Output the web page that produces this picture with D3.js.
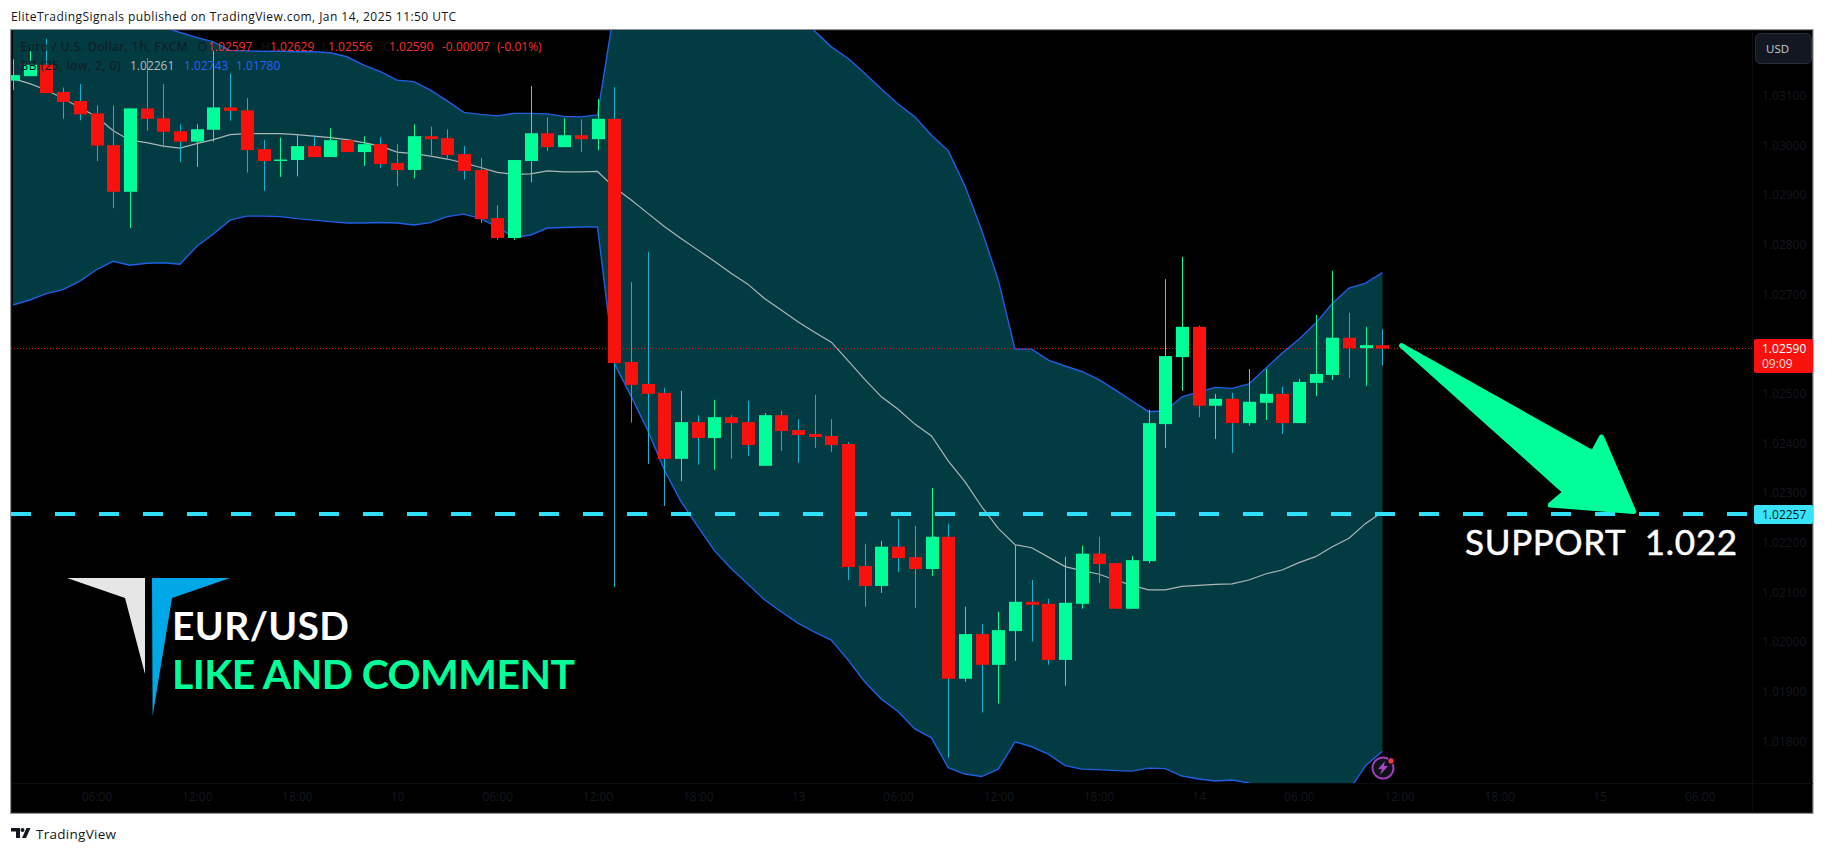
<!DOCTYPE html>
<html><head><meta charset="utf-8">
<script src="https://cdn.jsdelivr.net/npm/d3@7/dist/d3.min.js"></script>
<style>html,body{margin:0;padding:0;background:#fff}svg{display:block}text{font-family:"Open Sans",sans-serif}</style>
</head><body><svg id="c" width="1825" height="853"></svg>
<script>
const opens=[1.03130,1.03139,1.03162,1.03107,1.03089,1.03064,1.03000,1.02906,1.03074,1.03054,1.03028,1.03007,1.03031,1.03076,1.03070,1.02992,1.02970,1.02970,1.02998,1.02976,1.03010,1.02986,1.03002,1.02964,1.02950,1.03018,1.03014,1.02982,1.02950,1.02853,1.02813,1.02968,1.03024,1.02996,1.03020,1.03012,1.03053,1.02563,1.02519,1.02501,1.02368,1.02442,1.02410,1.02452,1.02442,1.02354,1.02456,1.02426,1.02418,1.02414,1.02398,1.02152,1.02112,1.02191,1.02170,1.02146,1.02211,1.01925,1.02015,1.01953,1.02021,1.02080,1.02076,1.01963,1.02076,1.02177,1.02158,1.02066,1.02162,1.02438,1.02573,1.02634,1.02475,1.02489,1.02440,1.02481,1.02499,1.02440,1.02521,1.02537,1.02612,1.02591,1.02597];
const highs=[1.03173,1.03190,1.03214,1.03116,1.03123,1.03080,1.03080,1.03074,1.03175,1.03123,1.03042,1.03042,1.03190,1.03144,1.03095,1.03010,1.03015,1.03021,1.03020,1.03034,1.03010,1.03018,1.03016,1.03002,1.03042,1.03037,1.03032,1.02998,1.02974,1.02879,1.02970,1.03119,1.03056,1.03054,1.03052,1.03093,1.03117,1.02724,1.02785,1.02511,1.02505,1.02456,1.02487,1.02456,1.02485,1.02460,1.02465,1.02448,1.02497,1.02448,1.02402,1.02197,1.02203,1.02247,1.02233,1.02309,1.02237,1.02070,1.02035,1.02060,1.02195,1.02124,1.02086,1.02171,1.02193,1.02211,1.02158,1.02172,1.02467,1.02730,1.02775,1.02636,1.02499,1.02501,1.02549,1.02549,1.02513,1.02529,1.02658,1.02747,1.02662,1.02634,1.02629];
const lows=[1.03111,1.03139,1.03105,1.03053,1.03050,1.02968,1.02873,1.02833,1.03029,1.02995,1.02966,1.02956,1.03007,1.03049,1.02945,1.02908,1.02936,1.02937,1.02976,1.02976,1.02986,1.02958,1.02954,1.02917,1.02933,1.02980,1.02974,1.02931,1.02843,1.02809,1.02809,1.02925,1.02988,1.02996,1.02986,1.02990,1.02110,1.02441,1.02358,1.02273,1.02323,1.02356,1.02346,1.02368,1.02374,1.02354,1.02384,1.02360,1.02390,1.02382,1.02124,1.02070,1.02098,1.02140,1.02068,1.02132,1.01766,1.01919,1.01857,1.01875,1.01961,1.02000,1.01953,1.01911,1.02066,1.02118,1.02066,1.02066,1.02158,1.02390,1.02505,1.02452,1.02408,1.02380,1.02435,1.02446,1.02418,1.02440,1.02495,1.02527,1.02531,1.02515,1.02556];
const closes=[1.03141,1.03162,1.03105,1.03087,1.03062,1.02999,1.02906,1.03074,1.03053,1.03027,1.03007,1.03032,1.03076,1.03069,1.02990,1.02968,1.02971,1.02998,1.02976,1.03010,1.02986,1.03002,1.02962,1.02950,1.03018,1.03012,1.02980,1.02948,1.02851,1.02813,1.02970,1.03024,1.02996,1.03020,1.03012,1.03053,1.02561,1.02517,1.02499,1.02368,1.02442,1.02410,1.02452,1.02440,1.02396,1.02456,1.02424,1.02416,1.02412,1.02396,1.02150,1.02112,1.02191,1.02168,1.02146,1.02211,1.01925,1.02015,1.01953,1.02023,1.02080,1.02074,1.01963,1.02078,1.02177,1.02156,1.02066,1.02164,1.02440,1.02575,1.02634,1.02475,1.02489,1.02440,1.02483,1.02499,1.02440,1.02523,1.02539,1.02612,1.02591,1.02597,1.02590];
const bbUpper=[1.03340,1.03330,1.03320,1.03310,1.03300,1.03290,1.03275,1.03262,1.03248,1.03238,1.03227,1.03217,1.03208,1.03191,1.03190,1.03189,1.03189,1.03188,1.03188,1.03186,1.03178,1.03161,1.03148,1.03131,1.03128,1.03111,1.03089,1.03066,1.03062,1.03059,1.03064,1.03064,1.03063,1.03058,1.03057,1.03061,1.03272,1.03420,1.03500,1.03560,1.03590,1.03600,1.03590,1.03560,1.03520,1.03460,1.03380,1.03300,1.03230,1.03198,1.03175,1.03145,1.03113,1.03083,1.03057,1.03020,1.02989,1.02918,1.02829,1.02728,1.02589,1.02589,1.02567,1.02555,1.02544,1.02528,1.02507,1.02485,1.02463,1.02465,1.02493,1.02503,1.02512,1.02510,1.02519,1.02550,1.02581,1.02609,1.02641,1.02681,1.02712,1.02722,1.02743];
const bbBasis=[1.03134,1.03124,1.03111,1.03094,1.03076,1.03057,1.03029,1.03010,1.03005,1.02998,1.02994,1.03003,1.03011,1.03021,1.03023,1.03023,1.03023,1.03021,1.03018,1.03015,1.03011,1.03005,1.02998,1.02986,1.02983,1.02978,1.02972,1.02964,1.02955,1.02945,1.02941,1.02942,1.02948,1.02946,1.02946,1.02947,1.02915,1.02890,1.02863,1.02836,1.02812,1.02789,1.02766,1.02742,1.02720,1.02691,1.02668,1.02644,1.02623,1.02603,1.02566,1.02528,1.02493,1.02468,1.02438,1.02414,1.02364,1.02322,1.02272,1.02228,1.02195,1.02189,1.02170,1.02151,1.02143,1.02136,1.02124,1.02113,1.02104,1.02104,1.02111,1.02113,1.02115,1.02116,1.02124,1.02136,1.02144,1.02159,1.02171,1.02191,1.02208,1.02238,1.02261];
const bbLower=[1.02678,1.02688,1.02701,1.02709,1.02726,1.02749,1.02766,1.02758,1.02762,1.02763,1.02760,1.02796,1.02821,1.02849,1.02857,1.02857,1.02856,1.02852,1.02849,1.02846,1.02843,1.02843,1.02844,1.02843,1.02839,1.02844,1.02856,1.02861,1.02852,1.02835,1.02814,1.02819,1.02833,1.02834,1.02835,1.02835,1.02561,1.02495,1.02426,1.02346,1.02282,1.02232,1.02183,1.02147,1.02116,1.02084,1.02060,1.02037,1.02019,1.02003,1.01963,1.01919,1.01884,1.01859,1.01824,1.01806,1.01746,1.01733,1.01728,1.01743,1.01798,1.01788,1.01773,1.01750,1.01743,1.01742,1.01740,1.01739,1.01745,1.01744,1.01729,1.01723,1.01719,1.01721,1.01715,1.01700,1.01690,1.01680,1.01675,1.01680,1.01700,1.01750,1.01779];
const priceTicks=[1.031,1.030,1.029,1.028,1.027,1.025,1.024,1.023,1.022,1.021,1.020,1.019,1.018];
const timeTickBars=[5,11,17,23,29,35,41,47,53,59,65,71,77,83,89,95,101];
const timeTickLabels=["06:00","12:00","18:00","10","06:00","12:00","18:00","13","06:00","12:00","18:00","14","06:00","12:00","18:00","15","06:00"];
const lastPrice=1.02590, supportPrice=1.02257;
const legendOHLC=[["O","1.02597"],["H","1.02629"],["L","1.02556"],["C","1.02590"]];
const arrowShape=[[83.15,1.02596],[94.6,1.02380],[95.12,1.02412],[97.05,1.02262],[92.05,1.02275],[92.95,1.02301]];

const svg=d3.select("#c");
const L=11,R=1752,T=30,B=783,FR=1813,FB=813;
const x=d3.scaleLinear().domain([0,82]).range([13,1382.4]);
const y=d3.scaleLinear().domain([1.031,1.018]).range([95.5,740.8]);
const idx=d3.range(opens.length);
const UP="#00ff99",DN="#f8120e",WDN="#0cb6d4",FILL="#023b42",BLUE="#1f5fe3";

svg.append("rect").attr("x",10.6).attr("y",29.6).attr("width",FR-10.6).attr("height",FB-29.2).attr("fill","#000").attr("stroke","#8f9296").attr("stroke-width",1.2);
const defs=svg.append("defs");
defs.append("clipPath").attr("id","p").append("rect").attr("x",L).attr("y",T).attr("width",R-L).attr("height",B-T);
const g=svg.append("g").attr("clip-path","url(#p)");

g.append("path").attr("fill",FILL).attr("d",d3.area().x(i=>x(i)).y0(i=>y(bbLower[i])).y1(i=>y(bbUpper[i]))(idx));
const ln=a=>d3.line().x(i=>x(i)).y(i=>y(a[i]))(idx);
g.append("path").attr("fill","none").attr("stroke","#aeb6b6").attr("stroke-width",1.2).attr("d",ln(bbBasis));
g.append("path").attr("fill","none").attr("stroke",BLUE).attr("stroke-width",1.4).attr("d",ln(bbUpper));
g.append("path").attr("fill","none").attr("stroke",BLUE).attr("stroke-width",1.4).attr("d",ln(bbLower));

g.append("line").attr("x1",L).attr("x2",R).attr("y1",y(lastPrice)).attr("y2",y(lastPrice)).attr("stroke","#f8120e").attr("stroke-width",1).attr("stroke-dasharray","1 2");
g.append("line").attr("x1",L).attr("x2",R).attr("y1",y(supportPrice)).attr("y2",y(supportPrice)).attr("stroke","#2fdffb").attr("stroke-width",4).attr("stroke-dasharray","20 24");

const cg=g.selectAll("g.k").data(idx).join("g").attr("class","k");
cg.append("line").attr("x1",i=>Math.round(x(i))+.5).attr("x2",i=>Math.round(x(i))+.5).attr("y1",i=>y(highs[i])).attr("y2",i=>y(lows[i])).attr("stroke",i=>closes[i]>=opens[i]?UP:WDN).attr("stroke-width",1);
cg.append("rect").attr("x",i=>Math.round(x(i))-6).attr("width",13).attr("y",i=>y(Math.max(opens[i],closes[i]))).attr("height",i=>Math.max(1.5,y(Math.min(opens[i],closes[i]))-y(Math.max(opens[i],closes[i])))).attr("fill",i=>closes[i]>=opens[i]?UP:DN);

// arrow
g.append("path").attr("fill",UP).attr("stroke",UP).attr("stroke-width",5).attr("stroke-linejoin","round")
 .attr("d",d3.line().x(d=>x(d[0])).y(d=>y(d[1])).curve(d3.curveLinearClosed)(arrowShape));

// axes
const ink="#14171f";
const ya=svg.append("g").attr("transform",`translate(1762,0)`).call(d3.axisRight(y).tickValues(priceTicks).tickFormat(d3.format(".5f")).tickSize(0).tickPadding(0));
ya.select(".domain").remove();
ya.selectAll("text").attr("fill",ink).attr("font-size",12).attr("dy","0.35em").style("font-family",'"Open Sans",sans-serif');
const xa=svg.append("g").attr("transform",`translate(0,${B})`).call(d3.axisBottom(x).tickValues(timeTickBars).tickFormat((d,i)=>timeTickLabels[i]).tickSize(0).tickPadding(9));
xa.select(".domain").remove();
xa.selectAll("text").attr("fill",ink).attr("font-size",12).style("font-family",'"Open Sans",sans-serif');
svg.append("line").attr("x1",L).attr("x2",FR).attr("y1",B+.5).attr("y2",B+.5).attr("stroke","#0b0d12");
svg.append("line").attr("x1",R+.5).attr("x2",R+.5).attr("y1",T).attr("y2",FB).attr("stroke","#0b0d12");

// price labels
svg.append("rect").attr("x",1754).attr("y",339).attr("width",59).attr("height",34).attr("rx",2).attr("fill","#f8120e");
svg.append("text").attr("x",1762).attr("y",352.5).attr("fill","#fff").attr("font-size",12).text("1.02590");
svg.append("text").attr("x",1762).attr("y",368).attr("fill","#ffd5d5").attr("font-size",12).text("09:09");
svg.append("rect").attr("x",1754).attr("y",505).attr("width",59).attr("height",19).attr("rx",2).attr("fill","#37e3fb");
svg.append("text").attr("x",1762).attr("y",519).attr("fill","#0b1a22").attr("font-size",12).text("1.02257");
svg.append("rect").attr("x",1755.5).attr("y",33.5).attr("width",56).attr("height",30).attr("rx",5).attr("fill","#131722").attr("stroke","#2a2e39");
svg.append("text").attr("x",1766).attr("y",53).attr("fill","#c8cbd3").attr("font-size",11.5).text("USD");

// legend
const l1=svg.append("g").attr("font-size",12);
l1.append("text").attr("x",20.5).attr("y",51).attr("fill",ink).attr("textLength",167).text("Euro / U.S. Dollar, 1h, FXCM");
const red="#f2302c";
[[198,208],[261,270],[322,328],[383,389]].forEach((p,k)=>{
  l1.append("text").attr("x",p[0]).attr("y",51).attr("fill",ink).text(legendOHLC[k][0]);
  l1.append("text").attr("x",p[1]).attr("y",51).attr("fill",red).text(legendOHLC[k][1]);
});
l1.append("text").attr("x",442).attr("y",51).attr("fill",red).text("-0.00007");
l1.append("text").attr("x",497).attr("y",51).attr("fill",red).text("(-0.01%)");
l1.append("text").attr("x",20.5).attr("y",70).attr("fill",ink).attr("textLength",100).text("BB (25, low, 2, 0)");
l1.append("text").attr("x",130).attr("y",70).attr("fill","#b4bfc2").text("1.02261");
l1.append("text").attr("x",184).attr("y",70).attr("fill","#2962ff").text("1.02743");
l1.append("text").attr("x",236).attr("y",70).attr("fill","#2962ff").text("1.01780");

// overlays
svg.append("polygon").attr("points","67,578 145,578 145,674 125,598").attr("fill","#e6e6e6");
svg.append("polygon").attr("points","152,578 230,578 172,598 152.6,716").attr("fill","#00a8e8");
svg.append("text").attr("x",172).attr("y",640).attr("fill","#fff").attr("font-size",39).attr("font-weight",700).style("font-family","Lato").attr("textLength",177).text("EUR/USD");
svg.append("text").attr("x",172).attr("y",688.5).attr("fill",UP).attr("font-size",41).attr("font-weight",700).style("font-family","Lato").attr("textLength",403).text("LIKE AND COMMENT");
svg.append("text").attr("x",1465).attr("y",555).attr("fill","#fff").attr("stroke","#fff").attr("stroke-width",.5).attr("font-size",35).style("font-family","Lato").style("white-space","pre").attr("textLength",272).text("SUPPORT  1.022");

// lightning badge
svg.append("circle").attr("cx",1383).attr("cy",768).attr("r",10.5).attr("fill","#10121a").attr("stroke","#9c3fb5").attr("stroke-width",2);
svg.append("polygon").attr("points","1385,761 1378,769 1382,769 1380,775 1388,766 1384,766").attr("fill","#a848c4");
svg.append("circle").attr("cx",1391).attr("cy",761).attr("r",3.2).attr("fill","#f23645").attr("stroke","#10121a").attr("stroke-width",1);

// header / footer
svg.append("text").attr("x",11).attr("y",21).attr("fill","#131722").attr("font-size",12).attr("textLength",445).text("EliteTradingSignals published on TradingView.com, Jan 14, 2025 11:50 UTC");
svg.append("path").attr("fill","#131722").attr("d","M11 828h9v10h-4v-6.5h-5zM26 838l4.5-10h-4l-4.5 10z");
svg.append("circle").attr("cx",22.5).attr("cy",830).attr("r",2).attr("fill","#131722");
svg.append("text").attr("x",36).attr("y",839).attr("fill","#131722").attr("font-size",13.5).attr("textLength",80).text("TradingView");
</script></body></html>
